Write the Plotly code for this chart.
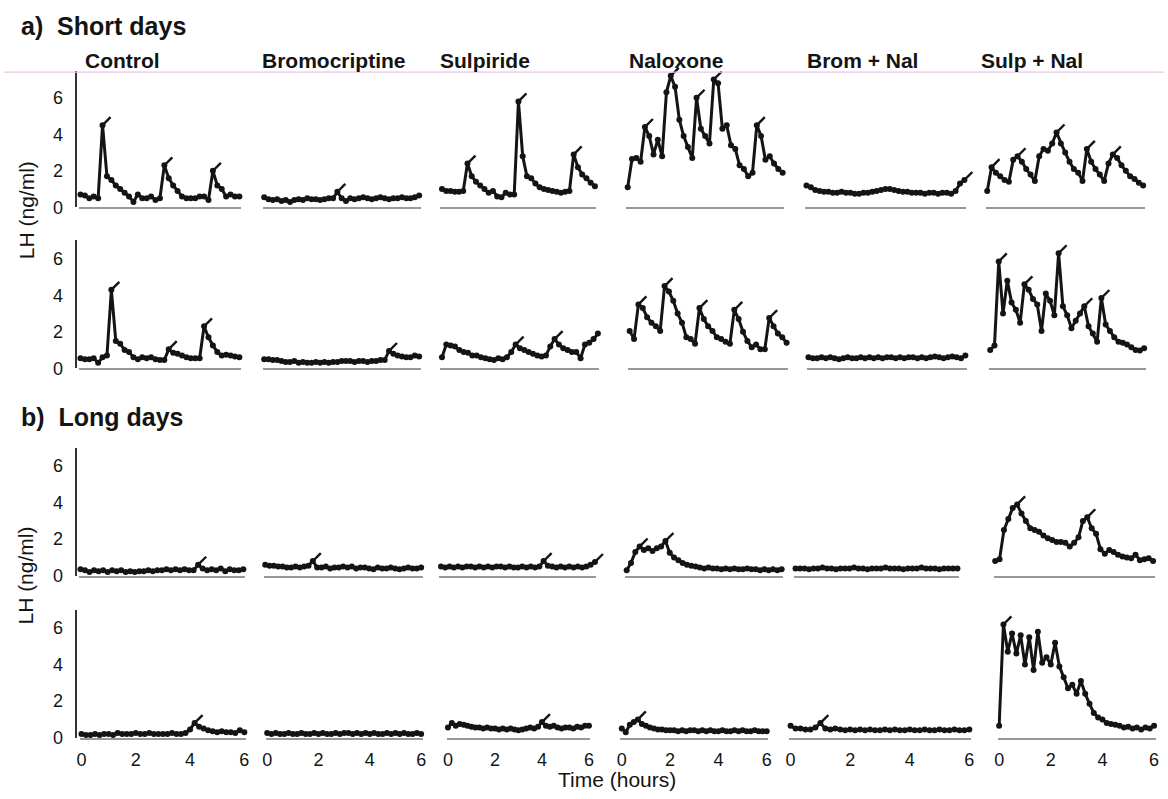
import plotly.graph_objects as go

W, H = 1168, 799

# ---------------- data ----------------
TIME_MIN = [0, 10, 20, 30, 40, 50, 60, 70, 80, 90, 100, 110, 120, 130, 140, 150, 160, 170,
            180, 190, 200, 210, 220, 230, 240, 250, 260, 270, 280, 290, 300, 310, 320, 330,
            340, 350, 360]
X_TICKS = [0, 2, 4, 6]
Y_TICKS = [0, 2, 4, 6]
TREATMENTS = ["Control", "Bromocriptine", "Sulpiride", "Naloxone", "Brom + Nal", "Sulp + Nal"]
SECTION_TITLES = ["a)  Short days", "b)  Long days"]
Y_TITLE = "LH (ng/ml)"
X_TITLE = "Time (hours)"

# Short days, animal 1
SD1_CONTROL = [0.7, 0.65, 0.5, 0.6, 0.5, 4.5, 1.7, 1.5, 1.2, 1.0, 0.8, 0.6, 0.3, 0.7, 0.5, 0.5, 0.6, 0.4, 0.5,
               2.3, 1.6, 1.2, 0.9, 0.6, 0.5, 0.5, 0.5, 0.6, 0.6, 0.4, 2.0, 1.2, 1.0, 0.6, 0.7, 0.6, 0.6]
SD1_BROM = [0.55, 0.45, 0.4, 0.45, 0.35, 0.4, 0.3, 0.4, 0.45, 0.4, 0.5, 0.45, 0.45, 0.4, 0.45, 0.5, 0.5, 0.85,
            0.5, 0.35, 0.5, 0.45, 0.5, 0.55, 0.5, 0.45, 0.5, 0.55, 0.5, 0.45, 0.5, 0.5, 0.55, 0.5, 0.5, 0.55, 0.65]
SD1_SULP = [1.0, 0.9, 0.9, 0.85, 0.85, 0.9, 2.4, 1.7, 1.4, 1.2, 1.0, 0.8, 0.9, 0.6, 0.55, 0.8, 0.7, 0.7, 5.8,
            2.8, 1.7, 1.6, 1.3, 1.1, 1.0, 0.95, 0.9, 0.85, 0.8, 0.85, 0.9, 2.9, 2.2, 1.8, 1.6, 1.35, 1.15]
SD1_NAL = [1.1, 2.65, 2.7, 2.5, 4.4, 3.9, 2.9, 3.7, 2.8, 6.3, 7.2, 6.6, 4.8, 3.9, 3.3, 2.7, 6.0, 4.3, 3.9,
           3.5, 7.0, 6.8, 4.3, 4.5, 3.4, 3.2, 2.3, 2.1, 1.7, 1.9, 4.5, 3.9, 2.6, 2.8, 2.4, 2.1, 1.9]
SD1_BROMNAL = [1.2, 1.1, 0.95, 0.9, 0.85, 0.85, 0.8, 0.8, 0.85, 0.8, 0.8, 0.75, 0.75, 0.8, 0.8, 0.85, 0.9,
               0.95, 1.0, 1.0, 0.95, 0.9, 0.85, 0.85, 0.8, 0.8, 0.8, 0.75, 0.8, 0.8, 0.75, 0.8, 0.8, 0.75,
               0.9, 1.3, 1.5]
SD1_SULPNAL = [0.9, 2.2, 1.9, 1.7, 1.5, 1.4, 2.6, 2.8, 2.5, 2.1, 1.8, 1.45, 2.8, 3.2, 3.1, 3.5, 4.1, 3.5, 3.0,
               2.5, 2.1, 1.9, 1.45, 3.2, 2.5, 2.1, 1.8, 1.45, 2.4, 2.9, 2.7, 2.3, 2.0, 1.7, 1.55, 1.35, 1.2]

# Short days, animal 2
SD2_CONTROL = [0.55, 0.5, 0.5, 0.55, 0.3, 0.6, 0.7, 4.3, 1.5, 1.35, 1.0, 0.9, 0.6, 0.5, 0.6, 0.55, 0.6, 0.5,
               0.45, 0.45, 1.05, 0.85, 0.8, 0.7, 0.6, 0.55, 0.55, 0.55, 2.3, 1.7, 1.25, 0.9, 0.7, 0.75, 0.7,
               0.65, 0.6]
SD2_BROM = [0.5, 0.5, 0.45, 0.45, 0.4, 0.35, 0.35, 0.4, 0.3, 0.35, 0.3, 0.3, 0.35, 0.3, 0.35, 0.3, 0.35, 0.35,
            0.4, 0.4, 0.4, 0.35, 0.4, 0.4, 0.35, 0.4, 0.4, 0.45, 0.45, 0.95, 0.8, 0.7, 0.65, 0.6, 0.6, 0.7, 0.65]
SD2_SULP = [0.6, 1.3, 1.25, 1.2, 1.0, 0.9, 0.85, 0.7, 0.7, 0.6, 0.55, 0.5, 0.45, 0.55, 0.5, 0.6, 0.9, 1.3, 1.1,
            1.0, 0.9, 0.8, 0.7, 0.65, 0.7, 1.2, 1.6, 1.3, 1.1, 1.0, 0.9, 0.9, 0.55, 1.3, 1.4, 1.6, 1.9]
SD2_NAL = [2.05, 1.6, 3.5, 3.3, 2.8, 2.5, 2.3, 2.05, 4.5, 4.2, 3.7, 3.0, 2.5, 1.7, 1.6, 1.35, 3.3, 2.7, 2.3,
           2.05, 1.7, 1.6, 1.45, 1.35, 3.2, 2.7, 2.0, 1.5, 1.15, 1.3, 1.05, 1.05, 2.75, 2.3, 1.9, 1.7, 1.4]
SD2_BROMNAL = [0.6, 0.55, 0.55, 0.6, 0.55, 0.6, 0.55, 0.5, 0.55, 0.6, 0.55, 0.55, 0.6, 0.55, 0.6, 0.55, 0.6,
               0.55, 0.6, 0.6, 0.55, 0.6, 0.55, 0.6, 0.6, 0.55, 0.6, 0.55, 0.6, 0.65, 0.6, 0.55, 0.6, 0.65,
               0.6, 0.55, 0.7]
SD2_SULPNAL = [1.0, 1.25, 5.85, 3.0, 4.8, 3.6, 3.2, 2.5, 4.6, 4.3, 3.8, 3.5, 2.05, 4.1, 3.7, 2.9, 6.3, 3.4, 2.9,
               2.2, 2.6, 3.0, 3.4, 2.3, 1.9, 1.45, 3.85, 2.4, 2.05, 1.7, 1.45, 1.4, 1.3, 1.15, 1.0, 0.97, 1.1]

# Long days, animal 1
LD1_CONTROL = [0.35, 0.3, 0.2, 0.3, 0.25, 0.3, 0.2, 0.3, 0.25, 0.3, 0.2, 0.25, 0.2, 0.25, 0.25, 0.3, 0.25,
               0.3, 0.3, 0.35, 0.3, 0.35, 0.3, 0.35, 0.3, 0.3, 0.6, 0.4, 0.3, 0.35, 0.3, 0.4, 0.25, 0.35, 0.3,
               0.3, 0.35]
LD1_BROM = [0.6, 0.55, 0.55, 0.5, 0.5, 0.45, 0.45, 0.5, 0.45, 0.5, 0.55, 0.8, 0.45, 0.45, 0.5, 0.4, 0.45, 0.45,
            0.5, 0.45, 0.5, 0.4, 0.45, 0.45, 0.4, 0.35, 0.45, 0.4, 0.4, 0.45, 0.4, 0.35, 0.4, 0.45, 0.4, 0.4, 0.45]
LD1_SULP = [0.5, 0.45, 0.5, 0.45, 0.5, 0.45, 0.5, 0.5, 0.45, 0.5, 0.45, 0.5, 0.45, 0.5, 0.5, 0.45, 0.5, 0.45,
            0.45, 0.5, 0.45, 0.5, 0.45, 0.5, 0.8, 0.55, 0.5, 0.45, 0.5, 0.45, 0.5, 0.45, 0.5, 0.45, 0.5, 0.6, 0.75]
LD1_NAL = [0.3, 0.7, 1.3, 1.6, 1.4, 1.5, 1.35, 1.5, 1.6, 1.9, 1.25, 1.0, 0.85, 0.7, 0.6, 0.55, 0.5, 0.45, 0.4,
           0.45, 0.4, 0.4, 0.35, 0.4, 0.35, 0.4, 0.35, 0.35, 0.4, 0.35, 0.35, 0.3, 0.35, 0.3, 0.35, 0.3, 0.35]
LD1_BROMNAL = [0.4, 0.4, 0.4, 0.35, 0.4, 0.4, 0.45, 0.4, 0.4, 0.35, 0.4, 0.4, 0.4, 0.45, 0.4, 0.4, 0.35, 0.4,
               0.4, 0.4, 0.45, 0.4, 0.4, 0.4, 0.35, 0.4, 0.4, 0.4, 0.45, 0.4, 0.4, 0.4, 0.35, 0.4, 0.4, 0.4,
               0.4]
LD1_SULPNAL = [0.8, 0.9, 2.5, 3.1, 3.7, 3.9, 3.4, 3.0, 2.6, 2.5, 2.4, 2.2, 2.05, 1.95, 1.85, 1.85, 1.8, 1.6,
               1.8, 2.1, 3.0, 3.2, 2.6, 2.3, 1.45, 1.2, 1.4, 1.3, 1.15, 1.05, 1.0, 0.95, 1.15, 0.85, 0.9, 0.95,
               0.8]

# Long days, animal 2
LD2_CONTROL = [0.2, 0.15, 0.15, 0.2, 0.15, 0.2, 0.2, 0.15, 0.25, 0.2, 0.2, 0.2, 0.25, 0.2, 0.2, 0.25, 0.2, 0.2,
               0.2, 0.2, 0.25, 0.2, 0.2, 0.25, 0.45, 0.8, 0.6, 0.5, 0.4, 0.35, 0.3, 0.35, 0.3, 0.3, 0.25, 0.4,
               0.3]
LD2_BROM = [0.25, 0.2, 0.25, 0.2, 0.2, 0.25, 0.2, 0.2, 0.25, 0.2, 0.2, 0.25, 0.2, 0.25, 0.2, 0.2, 0.25, 0.2,
            0.25, 0.25, 0.2, 0.25, 0.2, 0.25, 0.2, 0.25, 0.2, 0.2, 0.25, 0.2, 0.25, 0.2, 0.25, 0.2, 0.2, 0.25, 0.2]
LD2_SULP = [0.55, 0.8, 0.65, 0.75, 0.7, 0.65, 0.6, 0.55, 0.55, 0.5, 0.55, 0.5, 0.5, 0.45, 0.5, 0.45, 0.5, 0.45,
            0.4, 0.45, 0.5, 0.55, 0.5, 0.6, 0.85, 0.65, 0.6, 0.65, 0.55, 0.5, 0.55, 0.55, 0.5, 0.6, 0.55, 0.65,
            0.65]
LD2_NAL = [0.5, 0.3, 0.7, 0.85, 1.0, 0.75, 0.65, 0.55, 0.5, 0.45, 0.45, 0.4, 0.4, 0.4, 0.35, 0.4, 0.35, 0.4,
           0.4, 0.35, 0.4, 0.35, 0.4, 0.35, 0.35, 0.4, 0.35, 0.35, 0.4, 0.35, 0.4, 0.35, 0.35, 0.4, 0.35, 0.35,
           0.35]
LD2_BROMNAL = [0.65, 0.5, 0.5, 0.45, 0.45, 0.55, 0.8, 0.5, 0.45, 0.5, 0.45, 0.4, 0.45, 0.4, 0.45, 0.4, 0.45,
               0.4, 0.4, 0.45, 0.4, 0.45, 0.4, 0.4, 0.45, 0.4, 0.4, 0.45, 0.4, 0.4, 0.45, 0.4, 0.4, 0.45, 0.4,
               0.4, 0.45]
LD2_SULPNAL = [0.65, 6.2, 4.7, 5.7, 4.6, 5.6, 4.0, 5.5, 3.7, 5.8, 4.1, 4.4, 4.0, 5.2, 3.9, 3.3, 2.7, 2.9, 2.4,
               3.1, 2.4, 1.85, 1.35, 1.1, 1.0, 0.8, 0.75, 0.7, 0.65, 0.55, 0.6, 0.5, 0.55, 0.45, 0.55, 0.5, 0.65]

# indices of samples flagged as pulse peaks
SD1_PEAKS = [[5, 19, 30], [17], [6, 18, 31], [4, 10, 16, 20, 30], [36], [1, 7, 16, 23, 29]]
SD2_PEAKS = [[7, 20, 28], [29], [17, 26], [2, 8, 16, 24, 32], [], [2, 8, 16, 22, 26]]
LD1_PEAKS = [[26], [11], [24, 36], [3, 9], [], [5, 21]]
LD2_PEAKS = [[25], [], [24], [4], [6], [1]]

ROWS = [
    [SD1_CONTROL, SD1_BROM, SD1_SULP, SD1_NAL, SD1_BROMNAL, SD1_SULPNAL],
    [SD2_CONTROL, SD2_BROM, SD2_SULP, SD2_NAL, SD2_BROMNAL, SD2_SULPNAL],
    [LD1_CONTROL, LD1_BROM, LD1_SULP, LD1_NAL, LD1_BROMNAL, LD1_SULPNAL],
    [LD2_CONTROL, LD2_BROM, LD2_SULP, LD2_NAL, LD2_BROMNAL, LD2_SULPNAL],
]
PEAKS = [SD1_PEAKS, SD2_PEAKS, LD1_PEAKS, LD2_PEAKS]

# ---------------- layout geometry (pixels) ----------------
ROW_ZERO_PX = [210, 373, 583, 747]
ROW_YMAX = [7.45, 7.0, 7.0, 7.0]
PX_PER_UNIT = 18.5
PANEL_PX = [
    [(77, 237), (262, 418), (441, 595), (628, 784), (808, 967), (990, 1147)],
    [(77, 237), (262, 418), (441, 598), (630, 788), (810, 968), (993, 1148)],
    [(77, 241), (263, 420), (440, 595), (627, 783), (797, 960), (998, 1157)],
    [(78, 242), (265, 420), (447, 589), (622, 768), (792, 972), (1002, 1158)],
]
YAXIS_PX = 72
TITLE_X_PX = [80, 258, 437, 627, 807, 982]

FONT = "Liberation Sans, Arial, Helvetica, sans-serif"
INK = "#141414"

t_hours = [m / 60 for m in TIME_MIN]

fig = go.Figure()
layout = {}
pad = 0.06
for r in range(4):
    for c in range(6):
        n = r * 6 + c + 1
        xa = "x" if n == 1 else f"x{n}"
        ya = "y" if n == 1 else f"y{n}"
        vals = ROWS[r][c]
        fig.add_trace(go.Scatter(
            x=t_hours, y=vals, xaxis=xa, yaxis=ya, mode="lines+markers",
            line=dict(color=INK, width=3), marker=dict(size=6, color=INK),
            cliponaxis=False, showlegend=False, hoverinfo="skip"))
        pk = PEAKS[r][c]
        if pk:
            fig.add_trace(go.Scatter(
                x=[t_hours[i] for i in pk], y=[vals[i] for i in pk], xaxis=xa, yaxis=ya,
                mode="markers",
                marker=dict(symbol="line-ns", angle=225, standoff=5, size=9,
                            line=dict(width=2.4, color=INK)),
                cliponaxis=False, showlegend=False, hoverinfo="skip"))
        x0p, x6p = PANEL_PX[r][c]
        s = (x6p - x0p) / 6
        xdom = [(x0p - pad * s) / W, (x6p + pad * s) / W]
        y0p = ROW_ZERO_PX[r]
        ymax = ROW_YMAX[r]
        ydom = [1 - y0p / H, 1 - (y0p - ymax * PX_PER_UNIT) / H]
        xkey = "xaxis" if n == 1 else f"xaxis{n}"
        ykey = "yaxis" if n == 1 else f"yaxis{n}"
        layout[xkey] = dict(
            domain=xdom, range=[-pad, 6 + pad], anchor=ya, showline=True,
            linecolor="#999999", linewidth=1.6, showgrid=False, zeroline=False,
            tickvals=X_TICKS, showticklabels=(r == 3), ticks="", ticklabelstandoff=5,
            tickfont=dict(family=FONT, size=18, color=INK), fixedrange=True)
        ydict = dict(
            domain=ydom, range=[0, ymax], showline=(c == 0), linecolor="#333333",
            linewidth=1.6, showgrid=False, zeroline=False, tickvals=Y_TICKS,
            showticklabels=(c == 0), ticks="", ticklabelstandoff=8,
            tickfont=dict(family=FONT, size=18, color=INK), fixedrange=True)
        if c == 0:
            ydict["anchor"] = "free"
            ydict["position"] = YAXIS_PX / W
        else:
            ydict["anchor"] = xa
        layout[ykey] = ydict

annotations = []
for i, name in enumerate(TREATMENTS):
    annotations.append(dict(
        text=f"<b>{name}</b>", x=TITLE_X_PX[i] / W, y=1 - 61 / H, xref="paper", yref="paper",
        xanchor="left", yanchor="middle", showarrow=False,
        font=dict(family=FONT, size=21, color=INK)))
for txt, ypx in zip(SECTION_TITLES, [26, 422]):
    annotations.append(dict(
        text=f"<b>{txt}</b>", x=15 / W, y=1 - ypx / H, xref="paper", yref="paper",
        xanchor="left", yanchor="middle", showarrow=False,
        font=dict(family=FONT, size=25, color=INK)))
for ypx in [213, 583]:
    annotations.append(dict(
        text=Y_TITLE, x=22 / W, y=1 - ypx / H, xref="paper", yref="paper",
        xanchor="center", yanchor="middle", textangle=-90, showarrow=False,
        font=dict(family=FONT, size=21, color=INK)))
annotations.append(dict(
    text=X_TITLE, x=617 / W, y=1 - 789 / H, xref="paper", yref="paper",
    xanchor="center", yanchor="middle", showarrow=False,
    font=dict(family=FONT, size=21, color=INK)))

shapes = [dict(type="line", xref="paper", yref="paper", x0=0, x1=1,
               y0=1 - 73 / H, y1=1 - 73 / H, line=dict(color="#e4c6e6", width=1.2))]

fig.update_layout(
    width=W, height=H, margin=dict(l=0, r=0, t=0, b=0),
    paper_bgcolor="white", plot_bgcolor="white",
    annotations=annotations, shapes=shapes, showlegend=False, **layout)

fig.write_html("out.html", config={"displayModeBar": False},
               post_script="document.body.style.margin='0';document.body.style.overflow='hidden';")
